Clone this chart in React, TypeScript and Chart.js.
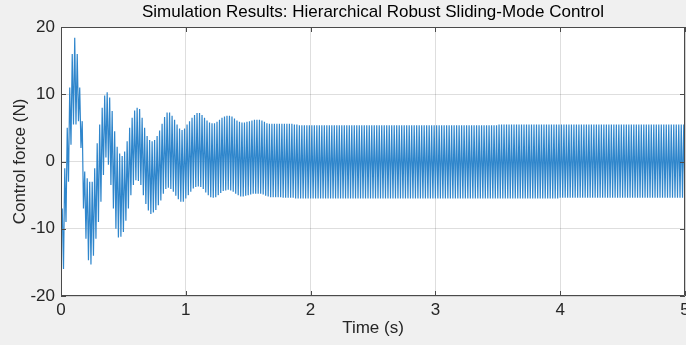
import React, { useEffect, useRef } from "react";
import { Chart, registerables } from "chart.js";

Chart.register(...registerables);

// Control force samples (N), one extreme every 10 ms (alternating troughs / crests)
const SAMPLE_STEP_S = 0.01;
const forceSamples: number[] = [
  -9, -7, -16, -1, -9, 5, -3, 11, 2.5, 16,
  5.5, 18.4, 5.5, 16, 6, 11, 2, 6, -7, -1.5,
  -11.5, -2.5, -14.7, -3, -15.3, -3, -14, -1, -11.5, 2.7,
  -9, 5.5, -6, 8, -2, 9.8, 0.6, 10.3, -0.5, 9.5,
  -3.5, 7.5, -7, 4.5, -10, 2.2, -11.3, 1.2, -11.2, 0.8,
  -10.5, 1.5, -8.8, 3, -7, 5, -5, 6.5, -3.5, 7.6,
  -2.8, 8.0, -2.9, 7.8, -3.5, 6.5, -5, 5, -6.3, 3.8,
  -7.3, 3.2, -7.8, 3.0, -7.6, 3.2, -7.2, 3.8, -6.5, 4.6,
  -5.8, 5.6, -4.8, 6.6, -4.1, 7.3, -3.9, 7.3, -4.1, 6.8,
  -4.5, 6.2, -5.1, 5.5, -5.6, 4.9, -6.0, 4.7, -6.0, 4.9,
  -5.5, 5.5, -5.0, 6.0, -4.5, 6.5, -4.0, 6.9, -3.8, 7.2,
  -3.7, 7.2, -3.8, 6.9, -4.1, 6.5, -4.6, 6.1, -5.0, 5.8,
  -5.3, 5.7, -5.4, 5.7, -5.3, 5.9, -5.0, 6.2, -4.7, 6.5,
  -4.4, 6.7, -4.3, 6.8, -4.2, 6.8, -4.3, 6.7, -4.5, 6.4,
  -4.8, 6.1, -5.0, 5.9, -5.2, 5.8, -5.2, 5.8, -5.1, 5.9,
  -5.0, 6.0, -4.9, 6.1, -4.8, 6.2, -4.8, 6.2, -4.8, 6.2,
  -4.8, 6.1, -4.9, 5.9, -5.1, 5.7, -5.2, 5.6, -5.3, 5.6,
  -5.3, 5.6, -5.3, 5.6, -5.3, 5.6, -5.3, 5.6, -5.4, 5.6,
  -5.4, 5.6, -5.4, 5.6, -5.4, 5.6, -5.4, 5.5, -5.5, 5.5,
  -5.5, 5.4, -5.5, 5.4, -5.5, 5.4, -5.5, 5.4, -5.5, 5.4,
  -5.5, 5.4, -5.5, 5.4, -5.5, 5.4, -5.5, 5.4, -5.5, 5.4,
  -5.5, 5.4, -5.5, 5.4, -5.5, 5.4, -5.5, 5.4, -5.5, 5.4,
  -5.5, 5.4, -5.5, 5.4, -5.5, 5.4, -5.5, 5.4, -5.5, 5.4,
  -5.5, 5.4, -5.5, 5.4, -5.5, 5.4, -5.5, 5.4, -5.5, 5.4,
  -5.5, 5.4, -5.5, 5.4, -5.5, 5.4, -5.5, 5.4, -5.5, 5.4,
  -5.5, 5.4, -5.5, 5.4, -5.5, 5.4, -5.5, 5.4, -5.5, 5.4,
  -5.5, 5.4, -5.5, 5.4, -5.5, 5.4, -5.5, 5.4, -5.5, 5.4,
  -5.5, 5.4, -5.5, 5.4, -5.5, 5.4, -5.5, 5.4, -5.5, 5.4,
  -5.5, 5.4, -5.5, 5.4, -5.5, 5.4, -5.5, 5.4, -5.5, 5.4,
  -5.5, 5.4, -5.5, 5.4, -5.5, 5.4, -5.5, 5.4, -5.5, 5.4,
  -5.5, 5.4, -5.5, 5.4, -5.5, 5.4, -5.5, 5.4, -5.5, 5.4,
  -5.5, 5.4, -5.5, 5.4, -5.5, 5.4, -5.5, 5.4, -5.5, 5.4,
  -5.5, 5.4, -5.5, 5.4, -5.5, 5.4, -5.5, 5.4, -5.5, 5.4,
  -5.5, 5.4, -5.5, 5.4, -5.5, 5.4, -5.5, 5.4, -5.5, 5.4,
  -5.5, 5.4, -5.5, 5.4, -5.5, 5.4, -5.5, 5.4, -5.5, 5.4,
  -5.5, 5.5, -5.5, 5.5, -5.5, 5.5, -5.5, 5.5, -5.5, 5.5,
  -5.5, 5.5, -5.5, 5.5, -5.5, 5.5, -5.5, 5.5, -5.5, 5.5,
  -5.5, 5.5, -5.5, 5.5, -5.5, 5.5, -5.5, 5.5, -5.5, 5.5,
  -5.5, 5.5, -5.5, 5.5, -5.5, 5.5, -5.5, 5.5, -5.5, 5.5,
  -5.5, 5.5, -5.5, 5.5, -5.5, 5.5, -5.5, 5.5, -5.5, 5.5,
  -5.4, 5.5, -5.4, 5.5, -5.4, 5.5, -5.4, 5.5, -5.4, 5.5,
  -5.4, 5.5, -5.4, 5.5, -5.4, 5.5, -5.4, 5.5, -5.4, 5.5,
  -5.4, 5.5, -5.4, 5.5, -5.4, 5.5, -5.4, 5.5, -5.4, 5.5,
  -5.4, 5.5, -5.4, 5.5, -5.4, 5.5, -5.4, 5.5, -5.4, 5.5,
  -5.4, 5.5, -5.4, 5.5, -5.4, 5.5, -5.4, 5.5, -5.4, 5.5,
  -5.4, 5.5, -5.4, 5.5, -5.4, 5.5, -5.4, 5.5, -5.4, 5.5,
  -5.4, 5.5, -5.4, 5.5, -5.4, 5.5, -5.4, 5.5, -5.4, 5.5,
  -5.4, 5.5, -5.4, 5.5, -5.4, 5.5, -5.4, 5.5, -5.4, 5.5,
  -5.4, 5.5, -5.4, 5.5, -5.4, 5.5, -5.4, 5.5, -5.4, 5.5,
  -5.4, 5.5, -5.4, 5.5, -5.4, 5.5, -5.4, 5.5, -5.4, 5.5,
  -5.4,
];

const xTickValues = [0, 1, 2, 3, 4, 5];
const yTickValues = [-20, -10, 0, 10, 20];

const TITLE = "Simulation Results: Hierarchical Robust Sliding-Mode Control";
const X_LABEL = "Time (s)";
const Y_LABEL = "Control force (N)";

const FONT = "'Liberation Sans', Arial, Helvetica, sans-serif";
const FONT_SIZE = 17;

const framePlugin = {
  id: "matlabFrame",
  beforeDraw(chart: any) {
    const { ctx, chartArea: a } = chart;
    ctx.save();
    ctx.fillStyle = "#ffffff";
    ctx.fillRect(a.left, a.top, a.right - a.left, a.bottom - a.top);
    ctx.restore();
  },
  afterDraw(chart: any) {
    const { ctx, chartArea: a, scales } = chart;
    ctx.save();
    ctx.strokeStyle = "#4a4a4a";
    ctx.lineWidth = 1;
    ctx.beginPath();
    ctx.rect(a.left + 0.5, a.top + 0.5, a.right - a.left - 1, a.bottom - a.top - 1);
    ctx.stroke();
    const len = 5;
    ctx.beginPath();
    xTickValues.forEach((v) => {
      const px = Math.round(scales.x.getPixelForValue(v)) + 0.5;
      ctx.moveTo(px, a.bottom);
      ctx.lineTo(px, a.bottom - len);
      ctx.moveTo(px, a.top);
      ctx.lineTo(px, a.top + len);
    });
    yTickValues.forEach((v) => {
      const py = Math.round(scales.y.getPixelForValue(v)) + 0.5;
      ctx.moveTo(a.left, py);
      ctx.lineTo(a.left + len, py);
      ctx.moveTo(a.right, py);
      ctx.lineTo(a.right - len, py);
    });
    ctx.stroke();
    ctx.restore();
  },
};

export default function App() {
  const canvasRef = useRef<HTMLCanvasElement | null>(null);

  useEffect(() => {
    document.body.style.margin = "0";
    document.body.style.overflow = "hidden";
    const canvas = canvasRef.current;
    if (!canvas) return;
    const points = forceSamples.map((y, i) => ({ x: i * SAMPLE_STEP_S, y }));
    const chart = new Chart(canvas, {
      type: "line",
      data: {
        datasets: [
          {
            data: points,
            borderColor: "#2f86cc",
            borderWidth: 1.2,
            pointRadius: 0,
            tension: 0,
            fill: false,
          },
        ],
      },
      options: {
        animation: false,
        responsive: false,
        devicePixelRatio: 1,
        events: [],
        layout: { padding: { left: 0, right: 15, top: 0, bottom: 0 } },
        plugins: {
          legend: { display: false },
          tooltip: { enabled: false },
          title: {
            display: true,
            text: TITLE,
            fullSize: false,
            color: "#000000",
            font: { family: FONT, size: FONT_SIZE, weight: "normal", lineHeight: 1.2 },
            padding: { top: 2, bottom: 4.6 },
          },
        },
        scales: {
          x: {
            type: "linear",
            min: 0,
            max: 5,
            afterBuildTicks: (scale: any) => {
              scale.ticks = xTickValues.map((v) => ({ value: v }));
            },
            afterFit: (scale: any) => {
              scale.height = 49;
            },
            grid: { color: "rgba(0,0,0,0.13)", drawTicks: false, lineWidth: 1 },
            border: { display: false },
            ticks: {
              color: "#262626",
              padding: 4,
              maxRotation: 0,
              font: { family: FONT, size: FONT_SIZE, lineHeight: 1.2 },
            },
            title: {
              display: true,
              text: X_LABEL,
              color: "#262626",
              font: { family: FONT, size: FONT_SIZE, lineHeight: 1.2 },
              padding: { top: 0, bottom: 6 },
            },
          },
          y: {
            type: "linear",
            min: -20,
            max: 20,
            afterBuildTicks: (scale: any) => {
              scale.ticks = yTickValues.map((v) => ({ value: v }));
            },
            afterFit: (scale: any) => {
              scale.width = 61;
            },
            grid: { color: "rgba(0,0,0,0.13)", drawTicks: false, lineWidth: 1 },
            border: { display: false },
            ticks: {
              color: "#262626",
              padding: 6,
              font: { family: FONT, size: FONT_SIZE, lineHeight: 1.2 },
            },
            title: {
              display: true,
              text: Y_LABEL,
              color: "#262626",
              font: { family: FONT, size: FONT_SIZE, lineHeight: 1.2 },
              padding: { top: 10, bottom: 0 },
            },
          },
        },
      },
      plugins: [framePlugin],
    });
    return () => chart.destroy();
  }, []);

  return (
    <div style={{ width: 700, height: 345, background: "#f0f0f0" }}>
      <canvas ref={canvasRef} width={700} height={345} style={{ display: "block" }} />
    </div>
  );
}
